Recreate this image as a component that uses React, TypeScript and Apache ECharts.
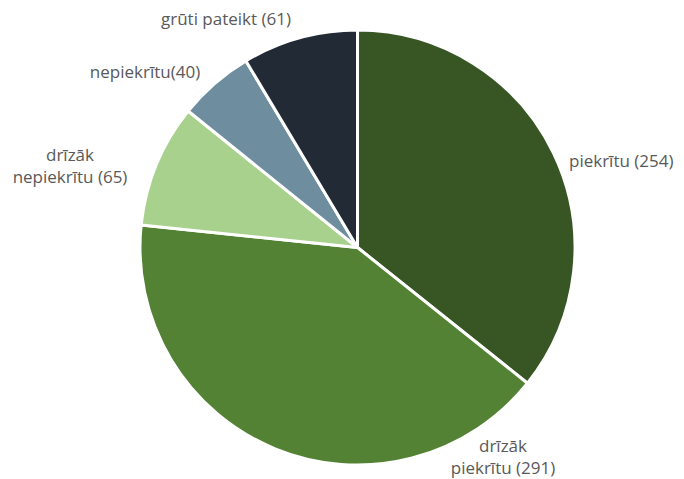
import React, { useEffect, useRef } from "react";
import * as echarts from "echarts";

const categories = ["piekrītu", "drīzāk piekrītu", "drīzāk nepiekrītu", "nepiekrītu", "grūti pateikt"];
const values = [254, 291, 65, 40, 61];
const labelTexts = ["piekrītu (254)", "drīzāk\npiekrītu (291)", "drīzāk\nnepiekrītu (65)", "nepiekrītu(40)", "grūti pateikt (61)"];
const colors = ["#375623", "#548235", "#A9D18E", "#6E8EA0", "#222A35"];
// label anchor positions (px) and alignment, styling only
const labelPos: [number, number, string][] = [
  [569, 160, "left"],
  [503, 456, "center"],
  [70, 165, "center"],
  [145, 71, "center"],
  [226, 18, "center"],
];

export default function App() {
  const ref = useRef<HTMLDivElement>(null);
  useEffect(() => {
    document.body.style.margin = "0";
    const chart = echarts.init(ref.current!, null, { renderer: "svg" });
    chart.setOption({
      animation: false,
      backgroundColor: "#ffffff",
      series: [
        {
          type: "pie",
          center: [357.5, 247.5],
          radius: [0, 217.5],
          startAngle: 90,
          clockwise: true,
          avoidLabelOverlap: false,
          itemStyle: { borderColor: "#ffffff", borderWidth: 3 },
          label: {
            show: true,
            position: "outside",
            color: "#595959",
            fontFamily: "Open Sans",
            fontSize: 17,
            lineHeight: 22,
            align: "center",
            formatter: (p: any) => labelTexts[p.dataIndex],
          },
          labelLine: { show: false },
          labelLayout: (p: any) => {
            const [x, y, align] = labelPos[p.dataIndex];
            return { x, y, align, verticalAlign: "middle" };
          },
          data: categories.map((c, i) => ({
            name: c,
            value: values[i],
            itemStyle: { color: colors[i] },
          })),
        },
      ],
    });
    return () => chart.dispose();
  }, []);
  return <div ref={ref} style={{ width: 684, height: 479, position: "absolute", left: 0, top: 0 }} />;
}
